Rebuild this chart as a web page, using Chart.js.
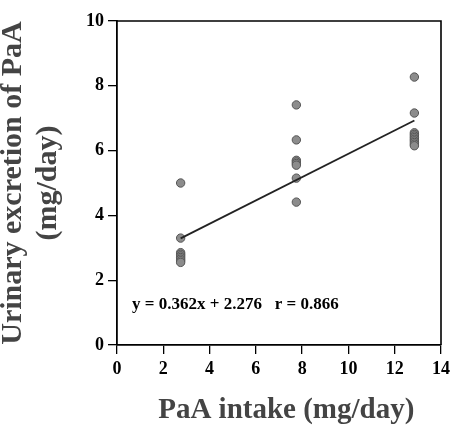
<!DOCTYPE html>
<html><head><meta charset="utf-8">
<script src="https://cdn.jsdelivr.net/npm/chart.js@4/dist/chart.umd.min.js"></script>
<style>html,body{margin:0;padding:0;background:#fff}</style>
</head><body>
<canvas id="c" width="450" height="425"></canvas>
<script>
// Data
const intakeGroups = [2.75, 7.75, 12.85];           // PaA intake (mg/day)
const excretionLow  = [5.0, 3.3, 2.85, 2.8, 2.75, 2.7, 2.65, 2.6, 2.55];
const excretionMid  = [7.41, 6.33, 5.7, 5.65, 5.6, 5.55, 5.15, 4.41];
const excretionHigh = [8.27, 7.16, 6.55, 6.5, 6.45, 6.4, 6.35, 6.3, 6.25, 6.2, 6.15];
const fitX = [2.75, 12.85];
const fitY = [3.29, 6.93];
const xTicks = [0, 2, 4, 6, 8, 10, 12, 14];
const yTicks = [0, 2, 4, 6, 8, 10];
const equationText = 'y = 0.362x + 2.276   r = 0.866';
const xTitle = '  PaA intake (mg/day)';
const yTitle = ['Urinary excretion of PaA', '(mg/day)'];

const groups = [excretionLow, excretionMid, excretionHigh];
const points = [];
groups.forEach((g, i) => g.forEach(v => points.push({x: intakeGroups[i], y: v})));
const fitPoints = fitX.map((x, i) => ({x, y: fitY[i]}));

const serif = "'Liberation Serif', 'Times New Roman', serif";

const framePlugin = {
  id: 'frame',
  afterDraw(chart) {
    const {ctx, chartArea: a, scales} = chart;
    ctx.save();
    ctx.strokeStyle = '#000';
    ctx.lineWidth = 1.6;
    ctx.beginPath();
    ctx.moveTo(a.left, a.top);
    ctx.lineTo(a.right, a.top);
    ctx.lineTo(a.right, a.bottom);
    ctx.stroke();
    ctx.fillStyle = '#000';
    ctx.font = "bold 17px " + serif;
    ctx.textBaseline = 'middle';
    ctx.textAlign = 'left';
    ctx.fillText(equationText, scales.x.getPixelForValue(0.65), scales.y.getPixelForValue(1.25));
    ctx.restore();
  }
};

function noPad(s) { s.paddingLeft = 0; s.paddingRight = 0; s.paddingTop = 0; s.paddingBottom = 0; }

new Chart(document.getElementById('c'), {
  type: 'scatter',
  data: {
    datasets: [
      {
        type: 'line',
        data: fitPoints,
        borderColor: '#222',
        borderWidth: 1.8,
        pointRadius: 0,
        fill: false,
        order: 1
      },
      {
        data: points,
        backgroundColor: '#8c8c8c',
        borderColor: '#555',
        borderWidth: 1,
        pointRadius: 4.2,
        order: 2
      }
    ]
  },
  plugins: [framePlugin],
  options: {
    responsive: false,
    animation: false,
    layout: {padding: {top: 21, right: 9, left: 0, bottom: 0}},
    plugins: {legend: {display: false}, tooltip: {enabled: false}},
    scales: {
      x: {
        type: 'linear', min: 0, max: 14,
        afterBuildTicks: s => { s.ticks = xTicks.map(v => ({value: v})); },
        afterFit: s => { s.height = 80; noPad(s); },
        grid: {drawOnChartArea: false, drawTicks: true, tickLength: 9, color: '#000', lineWidth: 1.3},
        border: {display: true, color: '#000', width: 1.8},
        ticks: {color: '#000', padding: 5, font: {family: serif, size: 18, weight: 'bold'}},
        title: {display: true, text: xTitle, color: '#444', padding: 0,
          font: {family: serif, size: 29, weight: 'bold', lineHeight: 1.0}}
      },
      y: {
        type: 'linear', min: 0, max: 10,
        afterBuildTicks: s => { s.ticks = yTicks.map(v => ({value: v})); },
        afterFit: s => { s.width = 117; noPad(s); },
        grid: {drawOnChartArea: false, drawTicks: true, tickLength: 9, color: '#000', lineWidth: 1.3},
        border: {display: true, color: '#000', width: 1.8},
        ticks: {color: '#000', padding: 4, font: {family: serif, size: 18, weight: 'bold'}},
        title: {display: true, text: yTitle, color: '#444', padding: {top: -4.5, bottom: 0},
          font: {family: serif, size: 30, weight: 'bold', lineHeight: 1.167}}
      }
    }
  }
});
</script>
</body></html>
